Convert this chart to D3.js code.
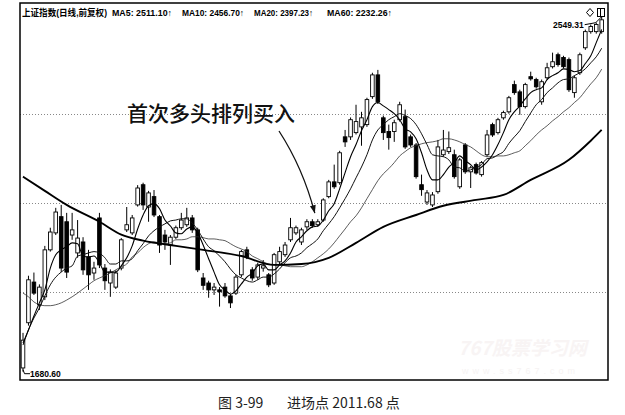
<!DOCTYPE html>
<html><head><meta charset="utf-8">
<script src="https://cdn.jsdelivr.net/npm/d3@7/dist/d3.min.js"></script>
<style>body{margin:0;background:#fff}svg{display:block}</style>
</head><body>
<svg id="c" width="625" height="415"></svg>
<script>
// ---- data (Shanghai Composite daily, adjusted) ----
const opens = [1688,1780,1867,1818,1835,1939,1978,2016,2004,1973,
 1932,1957,1923,1887,2013,1898,1865,1856,1898,1985,
 1978,2044,2093,2039,2064,2016,1973,1950,1968,1990,
 1997,2013,1985,1876,1865,1850,1850,1856,1837,1843,
 1883,1939,1894,1878,1898,1883,1865,1912,1928,1962,
 1978,1957,1992,2004,1997,2008,2064,2100,2098,2214,
 2214,2225,2240,2246,2321,2381,2264,2228,2228,2259,
 2267,2214,2193,2093,2051,2044,2076,2168,2176,2168,
 2088,2193,2125,2143,2118,2168,2246,2225,2264,2280,
 2354,2334,2294,2376,2368,2307,2373,2404,2438,2430,
 2424,2332,2387,2458,2505,2505,2505];
const highs = [1759,1881,1888,1862,1948,1990,2037,2044,2025,2025,
 2008,1968,1939,1912,2025,1907,1895,1893,1966,2039,
 2020,2092,2098,2078,2080,2020,1985,1973,1995,2025,
 2037,2020,1990,1887,1870,1865,1856,1865,1841,1883,
 1939,1946,1900,1910,1916,1887,1932,1946,1957,2013,
 1995,1990,2010,2010,2010,2060,2105,2143,2178,2232,
 2265,2299,2280,2318,2387,2395,2270,2246,2259,2307,
 2286,2220,2198,2118,2080,2075,2206,2232,2228,2181,
 2160,2198,2140,2148,2152,2232,2251,2264,2283,2323,
 2365,2340,2359,2390,2373,2368,2415,2444,2444,2435,
 2430,2379,2444,2511,2526,2532,2549.31];
const lows = [1680.6,1774,1839,1807,1828,1935,1973,1889,1876,1962,
 1921,1883,1850,1872,1898,1850,1835,1852,1893,1980,
 1973,2040,2032,2004,2015,1932,1939,1905,1964,1985,
 1992,1978,1889,1850,1833,1839,1814,1833,1811,1839,
 1878,1918,1870,1872,1890,1856,1861,1907,1923,1957,
 1973,1950,1985,1990,1992,2004,2060,2083,2093,2188,
 2206,2220,2191,2240,2315,2301,2206,2181,2201,2254,
 2183,2188,2108,2066,2044,2039,2071,2163,2170,2108,
 2083,2120,2085,2118,2113,2163,2214,2220,2259,2275,
 2326,2272,2289,2365,2343,2299,2368,2399,2404,2399,
 2334,2318,2381,2452,2499,2499,2499];
const closes = [1744,1872,1843,1856,1939,1980,2027,1898,1889,1985,
 1966,1894,1883,1898,1905,1870,1889,1887,1962,1997,
 2013,2085,2044,2073,2020,1950,1957,1968,1990,2008,
 2013,1985,1894,1860,1850,1856,1846,1837,1822,1878,
 1935,1923,1876,1905,1903,1861,1928,1935,1950,1990,
 1990,1985,2004,1995,2004,2056,2100,2088,2173,2201,
 2259,2254,2264,2313,2381,2307,2225,2212,2251,2299,
 2188,2193,2113,2081,2073,2068,2188,2180,2186,2113,
 2155,2125,2135,2122,2148,2219,2219,2259,2278,2318,
 2332,2294,2354,2370,2348,2362,2401,2418,2410,2404,
 2340,2373,2438,2505,2520,2526,2540];
const ma5 = [1738,1765,1794,1822,1850,1898,1928,1939,1946,1955,
 1953,1925,1923,1925,1910,1889,1889,1889,1903,1921,
 1948,1987,2020,2042,2047,2035,2008,1994,1978,1976,
 1987,1992,1978,1950,1919,1889,1861,1850,1841,1848,
 1863,1878,1887,1903,1907,1894,1894,1905,1914,1932,
 1957,1969,1983,1992,1994,2008,2030,2047,2083,2123,
 2163,2194,2230,2259,2294,2305,2296,2286,2275,2259,
 2235,2227,2209,2173,2130,2105,2105,2118,2137,2148,
 2165,2153,2143,2130,2137,2150,2168,2194,2225,2259,
 2280,2296,2315,2332,2340,2345,2368,2379,2387,2398,
 2396,2390,2393,2413,2435,2473,2511.10];
const ma10 = [1734,1765,1790,1811,1837,1861,1878,1889,1898,1903,
 1925,1928,1932,1935,1932,1921,1907,1907,1914,1914,
 1919,1937,1953,1971,1983,1992,1999,2006,2008,2011,
 2011,2001,1985,1964,1946,1937,1925,1912,1896,1883,
 1876,1870,1867,1872,1878,1878,1885,1896,1910,1921,
 1925,1932,1944,1953,1964,1983,1999,2016,2037,2059,
 2083,2110,2137,2168,2206,2232,2246,2259,2267,2275,
 2270,2262,2246,2222,2194,2168,2165,2163,2155,2137,
 2135,2127,2130,2135,2143,2158,2160,2168,2176,2197,
 2214,2230,2254,2277,2299,2313,2332,2345,2359,2368,
 2370,2379,2387,2398,2415,2432,2456.70];
const ma20 = [1843,1835,1824,1818,1816,1816,1818,1822,1828,1835,
 1843,1852,1861,1870,1876,1881,1887,1894,1901,1907,
 1923,1932,1944,1953,1957,1955,1953,1955,1962,1962,
 1964,1969,1969,1967,1964,1964,1962,1960,1953,1946,
 1941,1935,1925,1919,1912,1907,1905,1905,1903,1901,
 1901,1901,1905,1912,1921,1930,1941,1955,1971,1987,
 2004,2018,2037,2059,2081,2103,2120,2133,2148,2165,
 2176,2186,2191,2196,2199,2201,2204,2209,2209,2206,
 2201,2194,2188,2178,2168,2163,2163,2165,2165,2168,
 2173,2178,2191,2204,2219,2232,2243,2256,2267,2280,
 2291,2305,2318,2337,2356,2373,2397.23];
const ma60Index = [0,4,8,14,18,22,28,33,40,46,51,56,61,66,72,77,83,88,93,100,104,106];
const ma60Value = [2113,2078,2044,2004,1974,1960,1948,1939,1925,1905,1907,1921,1955,1992,2020,2042,2056,2068,2105,2155,2204,2232.26];
const gridPrices = [1846, 2049, 2275];
const titleParts = ["上证指数(日线,前复权)", "MA5: 2511.10↑", "MA10: 2456.70↑", "MA20: 2397.23↑", "MA60: 2232.26↑"];
const minLabel = "1680.60", maxLabel = "2549.31";
const buyIndex = 54;
const annotation = "首次多头排列买入";
const caption = ["图 3-99", "进场点 2011.68 点"];
const watermark = ["767股票学习网", "www.ss767.com"];

// ---- drawing ----
const svg = d3.select("#c");
const W = 625, H = 415;
const F = {l: 20, t: 3, r: 608, b: 380};
const n = opens.length;
const x = d3.scalePoint().domain(d3.range(n)).range([23, 601.7]);
const y = d3.scaleLog().domain([1680.6, 2549.31]).range([371.7, 16.7]);
const bw = 3.6;

svg.append("rect").attr("width", W).attr("height", H).attr("fill", "#fff");

// watermark (very faint)
svg.append("text").attr("x", 458).attr("y", 355).attr("font-family", "Noto Sans CJK SC")
  .attr("font-size", 19).attr("font-weight", 700).attr("font-style", "italic")
  .attr("fill", "#f8f4f4").text(watermark[0]);
svg.append("text").attr("x", 462).attr("y", 374).attr("font-family", "Liberation Sans")
  .attr("font-size", 9).attr("letter-spacing", 4).attr("fill", "#f6f3f3").text(watermark[1]);

// grid
svg.append("g").selectAll("line").data(gridPrices).join("line")
  .attr("x1", F.l).attr("x2", F.r)
  .attr("y1", d => Math.round(y(d)) + 0.5).attr("y2", d => Math.round(y(d)) + 0.5)
  .attr("stroke", "#888").attr("stroke-width", 1).attr("stroke-dasharray", "1,2");

// candles
const cg = svg.append("g");
const idx = d3.range(n);
cg.selectAll("line").data(idx).join("line")
  .attr("x1", i => x(i)).attr("x2", i => x(i))
  .attr("y1", i => y(highs[i])).attr("y2", i => y(lows[i]))
  .attr("stroke", "#000").attr("stroke-width", 1);
cg.selectAll("rect").data(idx).join("rect")
  .attr("x", i => x(i) - bw / 2)
  .attr("y", i => y(Math.max(opens[i], closes[i])))
  .attr("width", bw)
  .attr("height", i => Math.max(1, y(Math.min(opens[i], closes[i])) - y(Math.max(opens[i], closes[i]))))
  .attr("fill", i => closes[i] >= opens[i] ? "#fff" : "#000")
  .attr("stroke", "#000").attr("stroke-width", 0.9);

// moving averages
const line = d3.line().x(d => x(d[0])).y(d => y(d[1])).curve(d3.curveMonotoneX);
const mas = [
  {v: ma20.map((d, i) => [i, d]), w: 0.8, c: "#333"},
  {v: ma10.map((d, i) => [i, d]), w: 1.0, c: "#111"},
  {v: ma5.map((d, i) => [i, d]), w: 1.1, c: "#000"},
  {v: ma60Index.map((d, i) => [d, ma60Value[i]]), w: 1.9, c: "#000"}
];
svg.append("g").selectAll("path").data(mas).join("path")
  .attr("d", d => line(d.v)).attr("fill", "none")
  .attr("stroke", d => d.c).attr("stroke-width", d => d.w);

// extreme labels
const lx0 = x(0), ly0 = y(lows[0]);
svg.append("path").attr("d", `M${lx0},${ly0 - 2} L${lx0 + 1.5},${ly0 + 2} L${lx0 + 7},${ly0 + 2}`)
  .attr("fill", "none").attr("stroke", "#000").attr("stroke-width", 1);
svg.append("text").attr("x", lx0 + 7).attr("y", ly0 + 5).attr("font-family", "Liberation Sans")
  .attr("font-size", 8.5).attr("font-weight", 700).text(minLabel);
const hx = x(n - 1), hy = y(highs[n - 1]);
svg.append("path").attr("d", `M${hx - 17},${hy + 8} L${hx - 6},${hy + 6} L${hx},${hy}`)
  .attr("fill", "none").attr("stroke", "#000").attr("stroke-width", 1);
svg.append("text").attr("x", hx - 18).attr("y", hy + 11).attr("text-anchor", "end")
  .attr("font-family", "Liberation Sans").attr("font-size", 8.5).attr("font-weight", 700).text(maxLabel);

// annotation
svg.append("text").attr("x", 127).attr("y", 121).attr("font-family", "Noto Sans CJK SC")
  .attr("font-size", 21).attr("font-weight", 500).attr("fill", "#111").text(annotation);
const tx = x(buyIndex) - 3, ty = y(highs[buyIndex]) - 6;
const sx = 279, sy = 131, qx = 303, qy = 168;
svg.append("path").attr("d", `M${sx},${sy} Q${qx},${qy} ${tx},${ty}`)
  .attr("fill", "none").attr("stroke", "#111").attr("stroke-width", 1.3);
const ang = Math.atan2(ty - qy, tx - qx);
const ah = 8, aw = 3;
const bx = tx - ah * Math.cos(ang), by = ty - ah * Math.sin(ang);
svg.append("path").attr("d",
  `M${tx},${ty} L${bx + aw * Math.sin(ang)},${by - aw * Math.cos(ang)} L${bx - aw * Math.sin(ang)},${by + aw * Math.cos(ang)} Z`)
  .attr("fill", "#111");

// title
const titleX = [22, 112, 182, 254, 327];
const titleW = [85, 60, 62, 59, 65];
svg.append("g").selectAll("text").data(titleParts).join("text")
  .attr("x", (d, i) => titleX[i]).attr("y", 16)
  .attr("font-family", "Liberation Sans, Noto Sans CJK SC").attr("font-weight", 700)
  .attr("font-size", (d, i) => i === 0 ? 9.5 : 9)
  .attr("textLength", (d, i) => titleW[i]).attr("lengthAdjust", "spacingAndGlyphs")
  .text(d => d);

// top-right icons
svg.append("path").attr("d", "M590,8.5 L593.5,12.5 L590,16.5 L586.5,12.5 Z")
  .attr("fill", "none").attr("stroke", "#000").attr("stroke-width", 1);
svg.append("rect").attr("x", 597.5).attr("y", 8.5).attr("width", 7).attr("height", 8)
  .attr("fill", "none").attr("stroke", "#000").attr("stroke-width", 1);
svg.append("line").attr("x1", 600.5).attr("x2", 600.5).attr("y1", 8.5).attr("y2", 16.5)
  .attr("stroke", "#000").attr("stroke-width", 1);

// frame
svg.append("rect").attr("x", F.l).attr("y", F.t).attr("width", F.r - F.l).attr("height", F.b - F.t)
  .attr("fill", "none").attr("stroke", "#000").attr("stroke-width", 1.5);

// caption
svg.append("text").attr("x", 218).attr("y", 408).attr("font-family", "Noto Sans CJK SC")
  .attr("font-size", 14).attr("fill", "#222").text(caption[0]);
svg.append("text").attr("x", 287).attr("y", 408).attr("font-family", "Noto Sans CJK SC")
  .attr("font-size", 14).attr("fill", "#222").text(caption[1]);
</script>
</body></html>
